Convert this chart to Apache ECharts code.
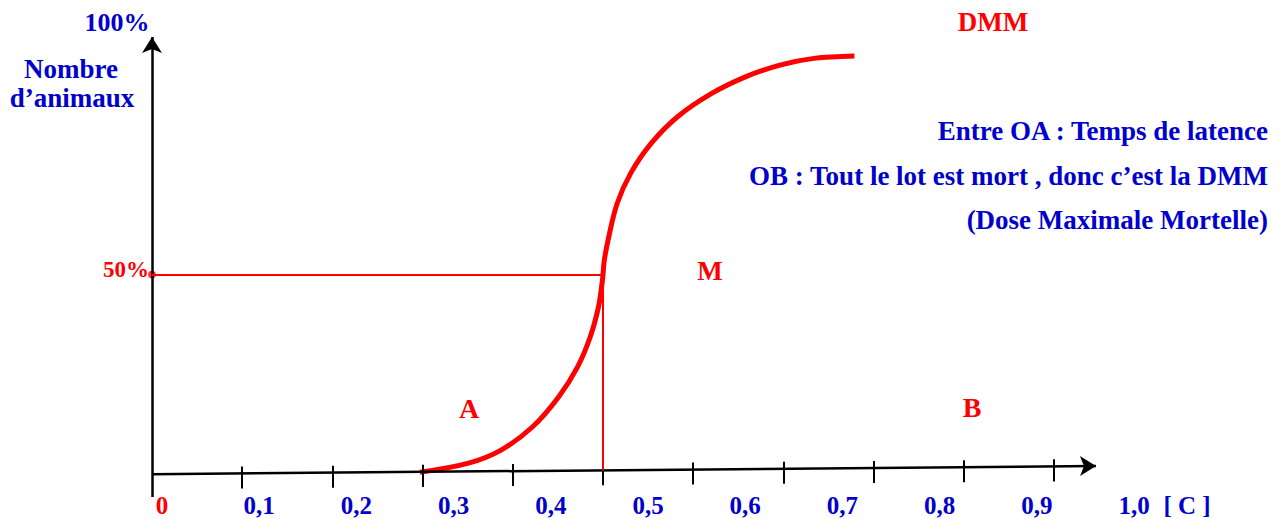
<!DOCTYPE html>
<html>
<head>
<meta charset="utf-8">
<script src="https://cdn.jsdelivr.net/npm/echarts@6/dist/echarts.min.js"></script>
<style>
html,body{margin:0;padding:0;background:#fff;}
#chart{width:1288px;height:519px;}
</style>
</head>
<body>
<div id="chart"></div>
<script>
// ---- data ----
const doseLabelValues = [0, 0.1, 0.2, 0.3, 0.4, 0.5, 0.6, 0.7, 0.8, 0.9, 1.0];
const doseLabels = ['0', '0,1', '0,2', '0,3', '0,4', '0,5', '0,6', '0,7', '0,8', '0,9', '1,0'];
const doseTicks = [0.1, 0.2, 0.3, 0.4, 0.5, 0.6, 0.7, 0.8, 0.9, 1.0];
const curveDose = [0.297, 0.351, 0.387, 0.422, 0.451, 0.472, 0.486, 0.495, 0.499, 0.5,
                   0.5015, 0.5064, 0.5158, 0.5308, 0.5534, 0.583, 0.621, 0.6586, 0.6962, 0.7337, 0.7788];
const curvePct = [0, 2.3, 5.6, 11.5, 19.1, 26.7, 34.3, 41.8, 47.8, 50,
                  53.6, 59.5, 68.0, 75.6, 83.1, 89.9, 95.8, 100.0, 102.9, 104.6, 105.2];
const dl50Dose = 0.5;
const dl50Pct = 50;

// ---- layout constants (not data) ----
const X_MAX = 1.0466, Y_MIN = -6.25, Y_MAX = 110;
const AX_Y0 = -0.5, AX_END_X = 1.0466, AX_Y1 = 1.59; // slightly tilted dose axis
const Y_AXIS_TOP = 110;
const TICK_UP = 1.77, TICK_DOWN = 3.8;
const BLUE = '#0000cc', RED = '#ff0000';
const FONT = '"Liberation Serif", "Times New Roman", serif';

function axisYAt(x) { return AX_Y0 + (AX_Y1 - AX_Y0) * x / AX_END_X; }

const curveData = curveDose.map((d, i) => [d, curvePct[i]]);
const tickLines = doseTicks.map(t => [
  { coord: [t, axisYAt(t) + TICK_UP] },
  { coord: [t, axisYAt(t) - TICK_DOWN] }
]);

function txt(text, x, y, size, color, align) {
  return {
    type: 'text', x: x, y: y, silent: true,
    style: {
      text: text, fill: color, font: 'bold ' + size + 'px ' + FONT,
      textAlign: align || 'center', textVerticalAlign: 'middle'
    }
  };
}

const chart = echarts.init(document.getElementById('chart'), null, { renderer: 'svg' });
chart.setOption({
  animation: false,
  backgroundColor: '#ffffff',
  grid: [
    { left: 152, right: 192, top: 37, bottom: 22 },
    { left: 162, right: 154, top: 0, bottom: 29 }
  ],
  xAxis: [
    { type: 'value', gridIndex: 0, min: 0, max: X_MAX, show: false },
    {
      type: 'value', gridIndex: 1, min: 0, max: 1,
      axisLine: { show: false }, axisTick: { show: false }, splitLine: { show: false },
      axisLabel: {
        customValues: doseLabelValues,
        margin: 3,
        fontSize: 25, fontWeight: 'bold', fontFamily: FONT,
        formatter: function (v) { return doseLabels[Math.round(Number(v) * 10)]; },
        color: function (v) { return Number(v) === 0 ? RED : BLUE; }
      }
    }
  ],
  yAxis: [
    { type: 'value', gridIndex: 0, min: Y_MIN, max: Y_MAX, show: false },
    { type: 'value', gridIndex: 1, min: 0, max: 1, show: false }
  ],
  series: [
    {
      type: 'line', xAxisIndex: 0, yAxisIndex: 0, data: [], silent: true,
      markLine: {
        silent: true, animation: false,
        symbol: ['none', 'arrow'], symbolSize: [15, 16],
        label: { show: false },
        lineStyle: { color: '#000', width: 2.5, type: 'solid' },
        emphasis: { disabled: true },
        data: [
          [{ coord: [0, Y_MIN] }, { coord: [0, Y_AXIS_TOP] }],
          [{ coord: [0, AX_Y0] }, { coord: [AX_END_X, AX_Y1] }]
        ]
      }
    },
    {
      type: 'line', xAxisIndex: 0, yAxisIndex: 0, data: [], silent: true,
      markLine: {
        silent: true, animation: false,
        symbol: ['none', 'none'],
        label: { show: false },
        lineStyle: { color: '#000', width: 2, type: 'solid' },
        emphasis: { disabled: true },
        data: tickLines
      }
    },
    {
      type: 'line', xAxisIndex: 0, yAxisIndex: 0, data: [], silent: true,
      markLine: {
        silent: true, animation: false,
        symbol: ['none', 'none'],
        label: { show: false },
        lineStyle: { color: RED, width: 2, type: 'solid' },
        emphasis: { disabled: true },
        data: [
          [{ coord: [0, dl50Pct] }, { coord: [dl50Dose, dl50Pct] }],
          [{ coord: [dl50Dose, dl50Pct] }, { coord: [dl50Dose, axisYAt(dl50Dose)] }]
        ]
      }
    },
    {
      type: 'line', xAxisIndex: 0, yAxisIndex: 0,
      data: curveData, smooth: 0.35,
      showSymbol: false, symbol: 'none', silent: true,
      lineStyle: { color: RED, width: 5 }
    },
    {
      type: 'scatter', xAxisIndex: 0, yAxisIndex: 0, silent: true,
      data: [[0, dl50Pct]], symbolSize: 8,
      itemStyle: { color: RED }
    }
  ],
  graphic: [
    txt('100%', 117, 22, 26, BLUE),
    txt('Nombre', 71, 69, 27, BLUE),
    txt('d\u2019animaux', 72, 98, 27, BLUE),
    txt('50%', 149, 269, 23, RED, 'right'),
    txt('DMM', 993, 22, 27, RED),
    txt('Entre OA : Temps de latence', 1268, 131, 27, BLUE, 'right'),
    txt('OB : Tout le lot est mort , donc c\u2019est la DMM', 1268, 176, 27, BLUE, 'right'),
    txt('(Dose Maximale Mortelle)', 1268, 220, 27, BLUE, 'right'),
    txt('M', 710, 271, 27, RED),
    txt('A', 469, 408, 28, RED),
    txt('B', 972, 407, 28, RED),
    txt('[ C ]', 1187, 505, 25, BLUE)
  ]
});
</script>
</body>
</html>
